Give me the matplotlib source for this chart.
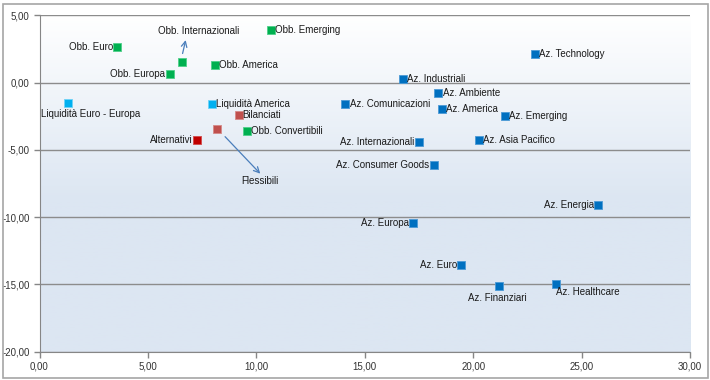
import numpy as np
import matplotlib.pyplot as plt
from matplotlib.patches import Rectangle
from matplotlib.colors import LinearSegmentedColormap
from matplotlib.ticker import FuncFormatter

plt.rcParams['font.family'] = ['Liberation Sans', 'DejaVu Sans']

# data: name, x, y, group, label placement
names = ['Obb. Euro', 'Obb. Internazionali', 'Obb. Europa', 'Obb. America', 'Obb. Emerging',
         'Liquidità Euro - Europa', 'Liquidità America', 'Bilanciati', 'Flessibili',
         'Obb. Convertibili', 'Alternativi',
         'Az. Technology', 'Az. Industriali', 'Az. Ambiente', 'Az. Comunicazioni', 'Az. America',
         'Az. Emerging', 'Az. Internazionali', 'Az. Asia Pacifico', 'Az. Consumer Goods',
         'Az. Energia', 'Az. Europa', 'Az. Euro', 'Az. Finanziari', 'Az. Healthcare']
xs = [3.59, 6.57, 6.00, 8.09, 10.68,
      1.33, 7.96, 9.18, 8.17,
      9.56, 7.27,
      22.85, 16.75, 18.40, 14.11, 18.56,
      21.47, 17.49, 20.28, 18.18,
      25.78, 17.24, 19.44, 21.18, 23.80]
ys = [2.64, 1.51, 0.64, 1.34, 3.90,
      -1.49, -1.59, -2.43, -3.42,
      -3.62, -4.28,
      2.15, 0.30, -0.79, -1.59, -1.93,
      -2.52, -4.38, -4.28, -6.16,
      -9.09, -10.47, -13.59, -15.15, -14.95]
groups = ['obb'] * 5 + ['liq', 'liq', 'bil', 'bil', 'obb', 'alt'] + ['az'] * 14
placement = ['left', 'callout_up', 'left', 'right', 'right',
             'below_r', 'right', 'right', 'callout_down',
             'right', 'left',
             'right', 'right', 'right', 'right', 'right',
             'right', 'left', 'right', 'left',
             'left', 'left', 'left', 'below', 'below_hr']

colors = {'obb': '#00B050', 'liq': '#00B0F0', 'bil': '#C0504D', 'alt': '#C00000', 'az': '#0070C0'}
edges = {'obb': '#4FD08A', 'liq': '#6FD3F7', 'bil': '#D58A88', 'alt': '#D24A4A', 'az': '#4C9AD6'}

fig = plt.figure(figsize=(7.1, 3.8), dpi=100)
fig.patches.append(Rectangle((2.5 / 710, 2.5 / 380), 705 / 710, 374 / 380, transform=fig.transFigure,
                             fill=False, edgecolor='#A6A6A6', linewidth=1.2))
ax = fig.add_axes([39.5 / 710, (380 - 351.7) / 380, (690 - 39.5) / 710, (351.7 - 15.3) / 380])

# gradient background
cmap = LinearSegmentedColormap.from_list('bg', [(0, '#DCE6F2'), (0.45, '#DCE6F2'), (1, '#FFFFFF')])
grad = np.linspace(0, 1, 256).reshape(-1, 1)
ax.imshow(grad, extent=[0, 1, 0, 1], transform=ax.transAxes, cmap=cmap, aspect='auto',
          origin='lower', zorder=0)

ax.set_xlim(0, 30)
ax.set_ylim(-20, 5)
ax.set_xticks(np.arange(0, 31, 5))
ax.set_yticks(np.arange(-20, 6, 5))
fmt = FuncFormatter(lambda v, p: f'{v:.2f}'.replace('.', ','))
ax.xaxis.set_major_formatter(fmt)
ax.yaxis.set_major_formatter(fmt)
ax.tick_params(labelsize=7, colors='#868686', labelcolor='#333333', length=4, width=1, pad=3)
for s in ['top', 'right']:
    ax.spines[s].set_visible(False)
for s in ['left', 'bottom']:
    ax.spines[s].set_color('#868686')
ax.yaxis.grid(True, color='#8C8C8C', linewidth=1)
ax.set_axisbelow(True)

for n, x, y, g, p in zip(names, xs, ys, groups, placement):
    ax.scatter(x, y, marker='s', s=38, color=colors[g], edgecolors=edges[g], linewidths=0.6, zorder=3)
    kw = dict(fontsize=7, color='#1A1A1A', textcoords='offset points', zorder=4)
    if p == 'right':
        ax.annotate(n, (x, y), xytext=(3, 0), ha='left', va='center', **kw)
    elif p == 'left':
        ax.annotate(n, (x, y), xytext=(-3, 0), ha='right', va='center', **kw)
    elif p == 'below':
        ax.annotate(n, (x, y), xytext=(-1, -8), ha='center', va='center', **kw)
    elif p == 'below_r':
        ax.annotate(n, (x, y), xytext=(16, -8), ha='center', va='center', **kw)
    elif p == 'below_hr':
        ax.annotate(n, (x, y), xytext=(23, -6), ha='center', va='center', **kw)
    elif p == 'callout_up':
        ax.annotate('', xy=(x + 0.2, y + 1.85), xytext=(x, y + 0.45),
                    arrowprops=dict(arrowstyle='->', color='#4A7EBB', lw=0.9), zorder=4)
        ax.annotate(n, (x + 0.75, y + 2.35), ha='center', va='center', fontsize=7,
                    color='#1A1A1A', zorder=4)
    elif p == 'callout_down':
        ax.annotate('', xy=(x + 2.1, y - 3.5), xytext=(x + 0.3, y - 0.45),
                    arrowprops=dict(arrowstyle='->', color='#4A7EBB', lw=0.9), zorder=4)
        ax.annotate(n, (x + 2.0, y - 3.9), ha='center', va='center', fontsize=7,
                    color='#1A1A1A', zorder=4)

fig.savefig('out.png', dpi=100)
